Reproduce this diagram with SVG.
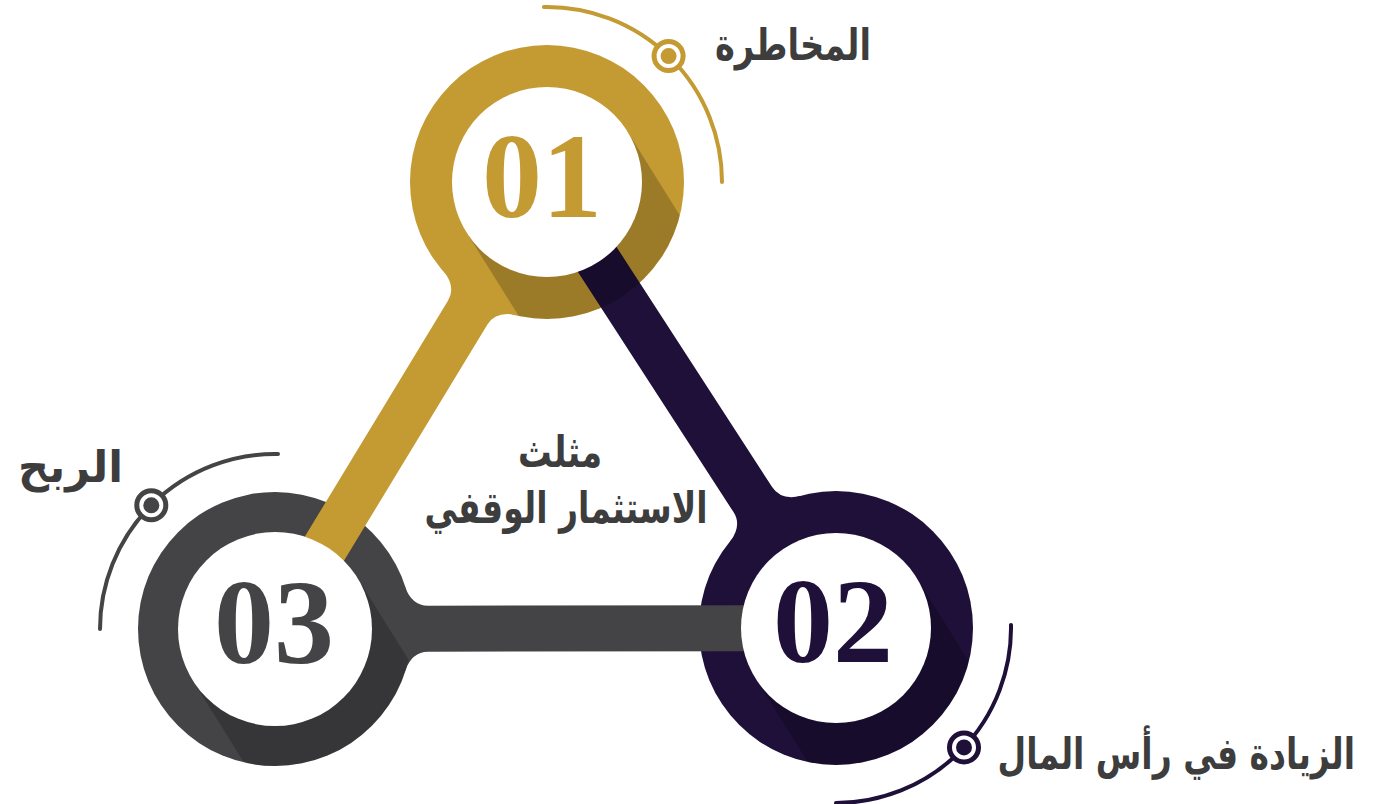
<svg xmlns="http://www.w3.org/2000/svg" width="1378" height="804" viewBox="0 0 1378 804">
<style>
.num{font-family:"Liberation Serif","Times New Roman",serif;font-weight:bold;font-size:120px;text-anchor:middle}
.lbl{font-family:"DejaVu Sans","Noto Sans",sans-serif;font-weight:bold;font-size:44px;fill:#3d3d3d}
.arc{fill:none;stroke-width:4;stroke-linecap:round}
.shadow{fill:#000;opacity:.2}
</style>
<defs>
<clipPath id="ringClip"><circle cx="0" cy="0" r="137"/></clipPath>
</defs>
<rect width="1378" height="804" fill="#fff"/>

<!-- rings -->
<g id="ring-outer">
<circle cx="547" cy="182" r="137" fill="#c49a33"/>
<circle cx="836" cy="628" r="137" fill="#1e1038"/>
<circle cx="275" cy="629" r="137" fill="#444446"/>
</g>

<!-- connectors -->
<g id="connectors">
<g transform="translate(547,182) rotate(121.26)"><path d="M0,-42 L130,-42 Q137,-23 153,-23 L524,-23 L524,23 L153,23 Q137,23 130,42 L0,42 Z" fill="#c49a33"/></g>
<g transform="translate(836,628) rotate(-122.94)"><path d="M0,-42 L130,-42 Q137,-23 153,-23 L531,-23 L531,23 L153,23 Q137,23 130,42 L0,42 Z" fill="#1e1038"/></g>
<g transform="translate(275,629) rotate(-0.1)"><path d="M0,-42 L130,-42 Q137,-23 153,-23 L561,-23 L561,23 L153,23 Q137,23 130,42 L0,42 Z" fill="#444446"/></g>
</g>

<!-- node 01 -->
<g id="node-01">
<g transform="translate(547,182)" clip-path="url(#ringClip)"><rect class="shadow" x="0" y="-95" width="330" height="190" transform="rotate(58)"/></g>
<circle cx="547" cy="182" r="95" fill="#fff"/>
<text class="num" x="542" y="217" fill="#c49a33">01</text>
<path class="arc" stroke="#c49a33" d="M543.9,7 A175,175 0 0 1 722,182"/>
<circle cx="668.6" cy="56.1" r="14.5" fill="#fff" stroke="#c49a33" stroke-width="5"/>
<circle cx="668.6" cy="56.1" r="8" fill="#c49a33"/>
<text class="lbl" x="871" y="60" text-anchor="end" textLength="156" lengthAdjust="spacingAndGlyphs">المخاطرة</text>
</g>

<!-- node 02 -->
<g id="node-02">
<g transform="translate(836,628)" clip-path="url(#ringClip)"><rect class="shadow" x="0" y="-95" width="330" height="190" transform="rotate(58)"/></g>
<circle cx="836" cy="628" r="95" fill="#fff"/>
<text class="num" x="833" y="662" fill="#1e1038">02</text>
<path class="arc" stroke="#1e1038" d="M1011,624.9 A175,175 0 0 1 836,803"/>
<circle cx="964" cy="747.4" r="14.5" fill="#fff" stroke="#1e1038" stroke-width="5"/>
<circle cx="964" cy="747.4" r="8" fill="#1e1038"/>
<text class="lbl" transform="translate(1355,769) scale(0.75,1)" x="0" y="0" font-size="42" text-anchor="end">الزيادة في رأس المال</text>
</g>

<!-- node 03 -->
<g id="node-03">
<g transform="translate(275,629)" clip-path="url(#ringClip)"><rect class="shadow" x="0" y="-97" width="330" height="194" transform="rotate(58)"/></g>
<circle cx="275" cy="629" r="97" fill="#fff"/>
<text class="num" x="274" y="663" fill="#444446">03</text>
<path class="arc" stroke="#444446" d="M100,629 A175,175 0 0 1 278,454"/>
<circle cx="151.3" cy="505.3" r="14.5" fill="#fff" stroke="#444446" stroke-width="5"/>
<circle cx="151.3" cy="505.3" r="8" fill="#444446"/>
<text class="lbl" x="123" y="482" text-anchor="end" textLength="105" lengthAdjust="spacingAndGlyphs">الربح</text>
</g>

<!-- center title -->
<g id="title">
<text class="lbl" x="560" y="467" text-anchor="middle" font-size="42" textLength="84" lengthAdjust="spacingAndGlyphs">مثلث</text>
<text class="lbl" x="566" y="523" text-anchor="middle" font-size="42" textLength="283" lengthAdjust="spacingAndGlyphs">الاستثمار الوقفي</text>
</g>
</svg>
